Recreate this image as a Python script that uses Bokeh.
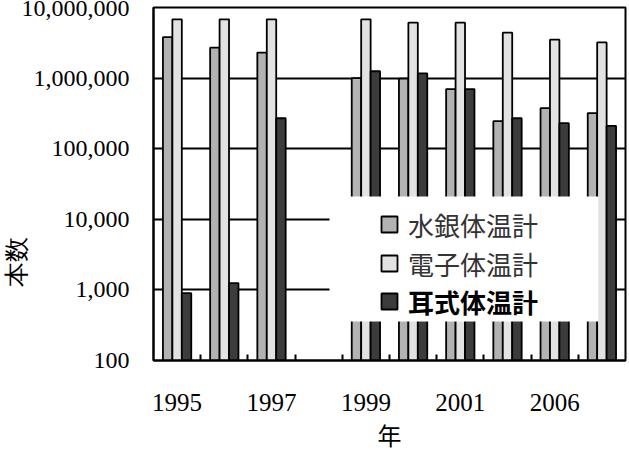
import math
from bokeh.plotting import figure
from bokeh.models import (ColumnDataSource, FixedTicker, NumeralTickFormatter, Legend,
                          LegendItem, LogAxis, BoxAnnotation)
from bokeh.transform import dodge
from bokeh.embed import file_html
from bokeh.resources import INLINE

nan = float("nan")
years = ["1995", "1996", "1997", "1998", "1999", "2000", "2001", "2004", "2006", "2007"]
shown_labels = ["1995", "1997", "1999", "2001", "2006"]
mercury = [3.8e6, 2.7e6, 2.3e6, nan, 1.0e6, 0.98e6, 0.70e6, 0.245e6, 0.375e6, 0.32e6]
electronic = [6.8e6, 6.8e6, 6.8e6, nan, 6.8e6, 6.1e6, 6.1e6, 4.4e6, 3.5e6, 3.2e6]
ear = [900, 1250, 2.7e5, nan, 1.25e6, 1.17e6, 0.70e6, 0.27e6, 0.23e6, 0.21e6]
series_names = ["水銀体温計", "電子体温計", "耳式体温計"]
y_ticks = [100, 1000, 10000, 100000, 1000000, 10000000]
y_title = "本数"
x_title = "年"

colors = ["#b2b2b2", "#e2e2e2", "#3c3c3c"]
serif = "Liberation Serif"
cjk = "Noto Sans CJK JP"

xs = list(range(len(years)))
src = ColumnDataSource(dict(x=xs, mercury=mercury, electronic=electronic, ear=ear))

p = figure(width=629, height=454, x_range=(-0.5, len(years) - 0.5), y_range=(100, 1e7),
           y_axis_type="log", output_backend="svg", toolbar_location=None,
           min_border_left=152, min_border_right=4, min_border_top=7, min_border_bottom=93)
p.background_fill_color = "white"
p.border_fill_color = "white"
p.outline_line_color = "black"
p.outline_line_width = 2

renderers = []
for key, off, col in zip(["mercury", "electronic", "ear"], [-0.2, 0.0, 0.2], colors):
    r = p.vbar(x=dodge("x", off), width=0.2, bottom=100, top=key, source=src,
               fill_color=col, line_color="black", line_width=1.8)
    renderers.append(r)

# axes
p.yaxis.ticker = FixedTicker(ticks=y_ticks, minor_ticks=[])
p.yaxis.formatter = NumeralTickFormatter(format="0,0")
p.yaxis.major_label_text_font = serif
p.yaxis.major_label_text_font_size = "24px"
p.yaxis.major_label_text_color = "black"
p.yaxis.major_tick_in = 0
p.yaxis.major_tick_out = 0
p.yaxis.minor_tick_out = 0
p.yaxis.major_label_standoff = 24
p.yaxis.axis_line_color = "black"
p.yaxis.axis_line_width = 2

# y-axis title placed via a tick-less helper axis (lower than centre, as in the reference)
title_pos = 2500
yt = LogAxis(ticker=FixedTicker(ticks=[title_pos], minor_ticks=[]),
             major_label_overrides={title_pos: y_title},
             major_label_orientation="parallel",
             major_label_text_font="Liberation Serif",
             major_label_text_font_size="25px",
             major_label_text_color="black", major_label_standoff=-12,
             axis_line_alpha=0, major_tick_line_alpha=0, minor_tick_line_alpha=0,
             major_tick_in=0, major_tick_out=0, minor_tick_in=0, minor_tick_out=0)
p.add_layout(yt, "left")

label_idx = [years.index(y) for y in shown_labels]
p.xaxis.ticker = FixedTicker(ticks=label_idx, minor_ticks=[i + 0.5 for i in range(len(years) - 1)])
p.xaxis.major_label_overrides = {i: years[i] for i in label_idx}
p.xaxis.major_label_text_font = serif
p.xaxis.major_label_text_font_size = "25px"
p.xaxis.major_label_text_color = "black"
p.xaxis.major_tick_in = 0
p.xaxis.major_tick_out = 0
p.xaxis.minor_tick_in = 6
p.xaxis.minor_tick_out = 0
p.xaxis.minor_tick_line_color = "black"
p.xaxis.minor_tick_line_width = 2
p.xaxis.major_label_standoff = 33
p.xaxis.axis_line_color = "black"
p.xaxis.axis_line_width = 2
p.xaxis.axis_label = x_title
p.xaxis.axis_label_text_font = cjk
p.xaxis.axis_label_text_font_size = "24px"
p.xaxis.axis_label_text_font_style = "normal"
p.xaxis.axis_label_text_color = "black"
p.xaxis.axis_label_standoff = 3

p.xgrid.visible = False
p.ygrid.grid_line_color = "black"
p.ygrid.grid_line_width = 2

# legend background
p.add_layout(BoxAnnotation(left=176, right=445, top=164, bottom=39,
                           left_units="screen", right_units="screen",
                           top_units="screen", bottom_units="screen",
                           fill_color="white", fill_alpha=1.0, line_alpha=0))

legend_bottoms = [116, 77, 39]
for i, (name, r) in enumerate(zip(series_names, renderers)):
    lg = Legend(items=[LegendItem(label=name, renderers=[r])], location=(226, legend_bottoms[i]),
                glyph_width=20, glyph_height=20, label_height=40, label_standoff=9,
                padding=0, margin=0, spacing=0,
                background_fill_alpha=0, border_line_alpha=0,
                label_text_font=cjk, label_text_font_size="26px",
                label_text_color="#333333" if i < 2 else "black",
                label_text_font_style="bold" if i == 2 else "normal")
    p.add_layout(lg)

open("out.html", "w").write(file_html(p, INLINE))
